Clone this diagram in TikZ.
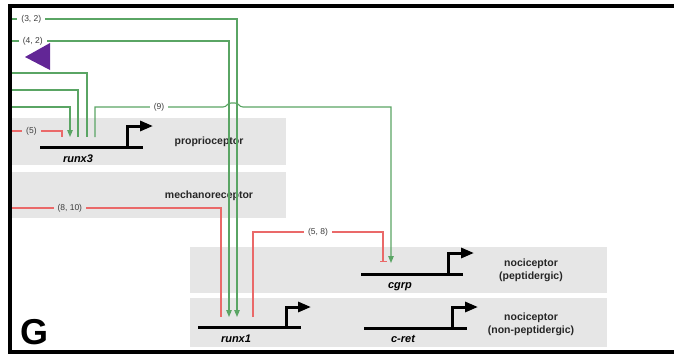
\documentclass[tikz,border=0pt]{standalone}
\usepackage{fontspec}
\setmainfont{Liberation Sans}
\usetikzlibrary{arrows.meta}
\definecolor{grn}{RGB}{90,165,100}
\definecolor{rd}{RGB}{234,105,105}
\definecolor{band}{RGB}{230,230,230}
\definecolor{purp}{RGB}{98,38,150}
\definecolor{lbl}{RGB}{60,60,60}
\tikzset{
  bandbox/.style={fill=band},
  geneline/.style={line width=3pt,black},
  promoter/.style={line width=3pt,black,-{Triangle[length=13pt,width=10pt]}},
  genelabel/.style={font=\fontsize{11}{12}\selectfont\bfseries\itshape},
  celllabel/.style={font=\fontsize{10.5}{13}\selectfont\bfseries,align=center,text=black!85},
  edgelabel/.style={font=\fontsize{8.5}{9}\selectfont,text=lbl,fill=white,inner xsep=4pt,inner ysep=1pt},
  edgelabelband/.style={edgelabel,fill=band},
  act/.style={grn,line width=1.1pt,-{Triangle[length=7pt,width=5.5pt]}},
  actplain/.style={grn,line width=1.1pt},
  rep/.style={rd,line width=1.1pt,-{Bar[width=7pt,line width=1.1pt]}},
  repplain/.style={rd,line width=1.1pt},
}
\begin{document}
\begin{tikzpicture}[x=1pt,y=-1pt]
\useasboundingbox (0,0) rectangle (674,356);
% bands
\fill[bandbox] (11,118) rectangle (286,165);
\fill[bandbox] (11,172) rectangle (286,218);
\fill[bandbox] (190,247) rectangle (607,293);
\fill[bandbox] (190,298) rectangle (607,347);
% cell labels
\node[celllabel] (prop) at (209,142) {proprioceptor};
\node[celllabel] (mech) at (209,196) {mechanoreceptor};
\node[celllabel] (nocp) at (531,270.5) {nociceptor\\(peptidergic)};
\node[celllabel] (nocn) at (531,324) {nociceptor\\(non-peptidergic)};
% genes
\draw[geneline] (40,147) -- (143,147);
\draw[promoter] (127,148.5) -- (127,126) -- (153,126);
\node[genelabel] (runx3) at (78,159) {runx3};
\draw[geneline] (198,327) -- (301,327);
\draw[promoter] (286,328.5) -- (286,307) -- (311,307);
\node[genelabel] (runx1) at (236,339) {runx1};
\draw[geneline] (361,274) -- (463,274);
\draw[promoter] (448,275.5) -- (448,253) -- (474,253);
\node[genelabel] (cgrp) at (400,287) {cgrp};
\draw[geneline] (364,328) -- (467,328);
\draw[promoter] (452,329.5) -- (452,307) -- (478,307);
\node[genelabel] (cret) at (403,339) {c-ret};
% connection points
\coordinate (r3a) at (70,137);
\coordinate (r3b) at (78,137);
\coordinate (r3c) at (87,137);
\coordinate (r3d) at (95,137);
\coordinate (r3e) at (62,137);
\coordinate (r1a) at (221,317);
\coordinate (r1b) at (229,317);
\coordinate (r1c) at (237,317);
\coordinate (r1d) at (253,317);
\coordinate (cga) at (383,262);
\coordinate (cgb) at (391,263);
% free ends at left border
\coordinate (s1) at (11,19);
\coordinate (s2) at (11,41);
\coordinate (s3) at (11,73);
\coordinate (s4) at (11,90);
\coordinate (s5) at (11,107);
\coordinate (s6) at (11,131);
\coordinate (s7) at (11,208);
% green connectors
\draw[act] (s1) -- node[edgelabel,pos=0.09] (l32) {(3, 2)} (s1 -| r1c) -- (r1c);
\draw[act] (s2) -- node[edgelabel,pos=0.1] (l42) {(4, 2)} (s2 -| r1b) -- (r1b);
\draw[actplain] (s3) -| (r3c);
\draw[actplain] (s4) -| (r3b);
\draw[act] (s5) -| (r3a);
\draw[act] (r3d) -- (95,107) -- node[edgelabel] (l9) {(9)} (223,107)
  .. controls (227,107) and (227,103) .. (231,103) -- (235,103)
  .. controls (239,103) and (239,107) .. (243,107) -| (cgb);
% red connectors
\draw[repplain] (s6) -- node[edgelabelband,pos=0.4] (l5) {(5)} (s6 -| r3e) -- (r3e);
\draw[repplain] (s7) -- node[edgelabelband,pos=0.28] (l810) {(8, 10)} (s7 -| r1a) -- (r1a);
\draw[rep] (r1d) -- (253,232) -- node[edgelabel] (l58) {(5, 8)} (383,232) -- (cga);
% purple triangle
\fill[purp] (25,57) -- (50,43) -- (50,70) -- cycle;
% border
\draw[line width=4pt] (674,6) -- (9.5,6) -- (9.5,351.5) -- (674,351.5);
% panel letter
\node[font=\fontsize{36}{36}\selectfont\bfseries,inner sep=0] (G) at (35,332) {G};
\end{tikzpicture}
\end{document}
